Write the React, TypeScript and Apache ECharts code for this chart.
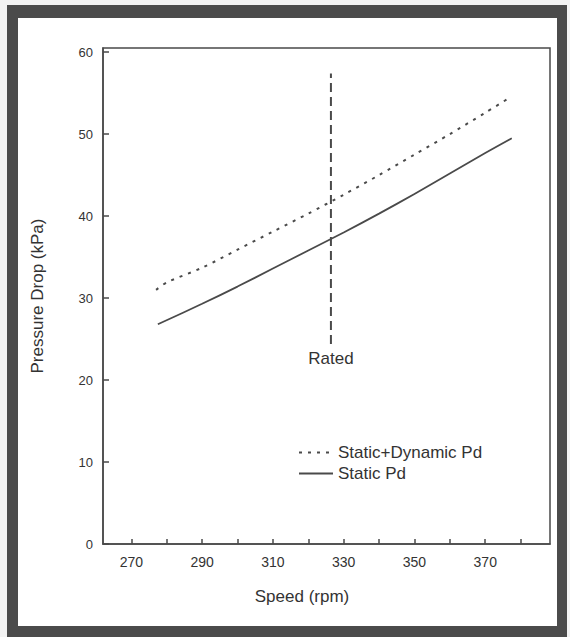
import React, { useEffect, useRef } from "react";
import * as echarts from "echarts";

const speedDyn = [277, 280, 290, 300, 310, 320, 330, 340, 350, 360, 370, 376];
const pdDyn = [31.0, 31.9, 33.7, 35.9, 38.1, 40.3, 42.6, 45.0, 47.5, 50.0, 52.6, 54.2];
const speedStatic = [277.5, 290, 300, 310, 320, 330, 340, 350, 360, 370, 377.5];
const pdStatic = [26.8, 29.3, 31.4, 33.6, 35.8, 38.0, 40.3, 42.7, 45.2, 47.7, 49.5];
const ratedSpeed = 326.4;
const ratedRange = [24.4, 57.4];
const xTicks = [270, 280, 290, 300, 310, 320, 330, 340, 350, 360, 370, 380];
const xLabels = [270, 290, 310, 330, 350, 370];
const yTicks = [0, 10, 20, 30, 40, 50, 60];
const seriesNames = ["Static+Dynamic Pd", "Static Pd"];

const FONT = "'Liberation Sans', Arial, sans-serif";
const INK = "#333333";
const LINE = "#4a4a4a";

export default function App() {
  const ref = useRef<HTMLDivElement>(null);
  useEffect(() => {
    if (!ref.current) return;
    const chart = echarts.init(ref.current, null, { renderer: "svg" });
    const W = 570, H = 637;
    const band = "#4b4b4b";
    chart.setOption({
      animation: false,
      backgroundColor: "#f3f3f3",
      graphic: [
        { type: "rect", shape: { x: 7, y: 5, width: 560, height: 632 }, style: { fill: band }, z: -10 },
        { type: "rect", shape: { x: 18, y: 18, width: 539, height: 608 }, style: { fill: "#ffffff" }, z: -9 },
      ],
      grid: {
        left: 103,
        right: W - 550,
        top: 48,
        bottom: H - 544,
        show: true,
        borderColor: LINE,
        borderWidth: 1.5,
        backgroundColor: "transparent",
      },
      legend: {
        orient: "vertical",
        left: 293,
        top: 439,
        itemWidth: 34,
        itemHeight: 14,
        itemGap: 4,
        data: seriesNames,
        itemStyle: { opacity: 0 },
        textStyle: { fontFamily: FONT, fontSize: 17, color: INK },
      },
      xAxis: {
        type: "value",
        min: 262,
        max: 388.3,
        name: "Speed (rpm)",
        nameLocation: "middle",
        nameGap: 44,
        nameTextStyle: { fontFamily: FONT, fontSize: 17, color: INK, padding: [0, 49, 0, 0] },
        axisLine: { show: true, lineStyle: { color: LINE, width: 1.5 } },
        axisTick: { show: true, inside: true, length: 5, customValues: xTicks, lineStyle: { color: LINE, width: 1.5 } },
        axisLabel: { customValues: xLabels, fontFamily: FONT, fontSize: 14, color: INK, margin: 11 },
        splitLine: { show: false },
      },
      yAxis: {
        type: "value",
        min: 0,
        max: 60.5,
        name: "Pressure Drop (kPa)",
        nameLocation: "middle",
        nameGap: 57,
        nameTextStyle: { fontFamily: FONT, fontSize: 17, color: INK },
        axisLine: { show: true, lineStyle: { color: LINE, width: 1.5 } },
        axisTick: { show: true, inside: true, length: 6, customValues: yTicks, lineStyle: { color: LINE, width: 1.5 } },
        axisLabel: { customValues: yTicks, fontFamily: FONT, fontSize: 13, color: INK, margin: 10 },
        splitLine: { show: false },
      },
      series: [
        {
          name: seriesNames[0],
          type: "line",
          symbol: "none",
          smooth: 0.3,
          data: speedDyn.map((s, i) => [s, pdDyn[i]]),
          lineStyle: { color: LINE, width: 2, type: [3, 6] },
          itemStyle: { color: LINE },
        },
        {
          name: seriesNames[1],
          type: "line",
          symbol: "none",
          smooth: 0.3,
          data: speedStatic.map((s, i) => [s, pdStatic[i]]),
          lineStyle: { color: LINE, width: 1.8, type: "solid" },
          itemStyle: { color: LINE },
        },
        {
          name: "Rated",
          type: "line",
          symbol: "circle",
          symbolSize: 0,
          data: [
            {
              value: [ratedSpeed, ratedRange[0]],
              label: { show: true, position: "bottom", distance: 6, formatter: "Rated", fontFamily: FONT, fontSize: 17, color: INK },
            },
            [ratedSpeed, ratedRange[1]],
          ],
          lineStyle: { color: LINE, width: 2, type: [9, 5] },
          itemStyle: { color: LINE },
        },
      ],
    });
    return () => chart.dispose();
  }, []);
  return <div ref={ref} style={{ position: "absolute", left: 0, top: 0, width: 570, height: 637 }} />;
}
